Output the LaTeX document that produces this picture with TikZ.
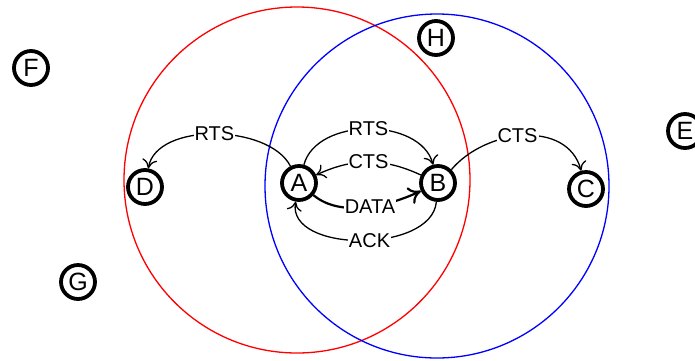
\documentclass[tikz,border=0pt]{standalone}
\usepackage{fontspec}
\setmainfont{Liberation Sans}
\usetikzlibrary{arrows.meta}
\begin{document}
\begin{tikzpicture}[x=1pt,y=-1pt,
  station/.style={circle,draw,line width=3.8pt,minimum size=34pt,inner sep=0pt,
    font=\fontsize{25}{25}\selectfont},
  msg/.style={line width=1.3pt,-{To[length=9pt,width=15pt]}},
  bigmsg/.style={line width=2.2pt,-{To[length=12pt,width=18pt]}},
  lbl/.style={fill=white,inner sep=1pt,font=\fontsize{20}{20}\selectfont},
  rangecircle/.style={line width=1.3pt}]
\useasboundingbox (0,0) rectangle (695,360);

% transmission ranges of A and B
\draw[rangecircle,red]  (297,180) circle[radius=173];
\draw[rangecircle,blue] (437,186) circle[radius=172];

% stations
\node[station] (A) at (299,183) {A};
\node[station] (B) at (438,183) {B};
\node[station] (C) at (586,189) {C};
\node[station] (D) at (145,187) {D};
\node[station] (E) at (685,131) {E};
\node[station] (F) at (31,68)   {F};
\node[station] (G) at (78,282)  {G};
\node[station] (H) at (436,38)  {H};

% handshake between A and B
\draw[msg] (A.75) to[out=75,in=105,looseness=0.98] node[lbl]{RTS} (B.105);
\draw[msg] (B.155) to[out=155,in=25] node[lbl]{CTS} (A.25);
\draw[bigmsg] (A.-40) to[out=-40,in=-155,looseness=0.85] node[lbl,pos=0.54]{DATA} (B.-155);
\draw[msg] (B.-95) to[out=-95,in=-100,looseness=0.95] node[lbl,pos=0.46]{ACK} (A.-100);

% overheard frames
\draw[msg] (A.117) to[out=117,in=80,looseness=0.85] node[lbl]{RTS} (D.80);
\draw[msg] (B.45) to[out=50,in=105,looseness=1.05] node[lbl,pos=0.46]{CTS} (C.105);
\end{tikzpicture}
\end{document}
